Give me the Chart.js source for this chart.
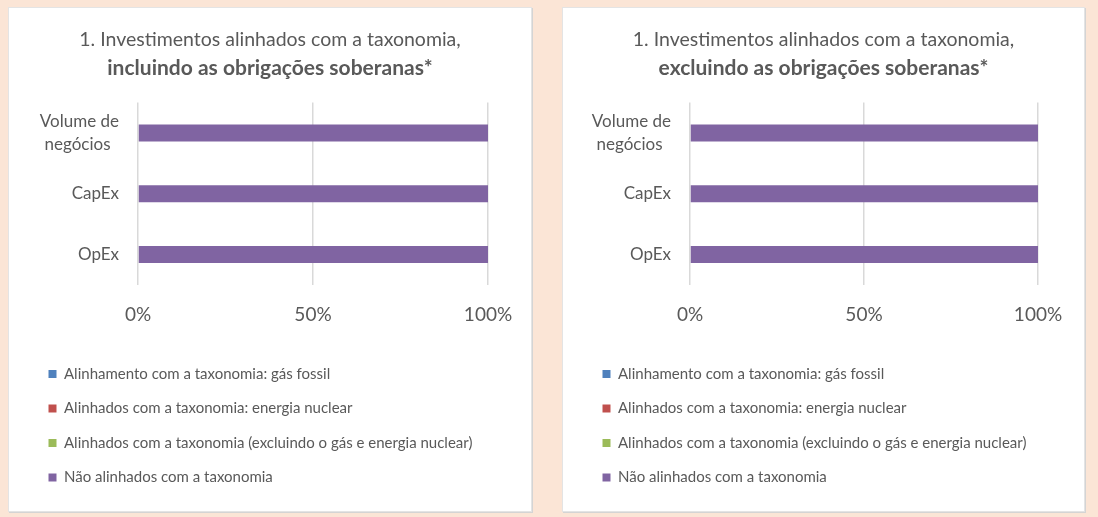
<!DOCTYPE html>
<html>
<head>
<meta charset="utf-8">
<script src="https://cdn.jsdelivr.net/npm/chart.js@4.4.1/dist/chart.umd.min.js"></script>
<style>
  body { margin: 0; background: #fbe5d6; width: 1098px; height: 517px; position: relative; overflow: hidden; }
  .panel { position: absolute; top: 7px; height: 505px; background: #fff; border: 1px solid #e4e4e4; box-sizing: border-box; box-shadow: 1px 1px 0 #d4d4d4; }
  #p1 { left: 8px; width: 524px; }
  #p2 { left: 562px; width: 523px; }
  .panel div { position: relative; width: 100%; height: 100%; }
</style>
</head>
<body>
<div class="panel" id="p1"><div><canvas id="chartIncl"></canvas></div></div>
<div class="panel" id="p2"><div><canvas id="chartExcl"></canvas></div></div>
<script>
// categories (y axis), two-line label for the first one
const categories = [["Volume de", "negócios\u2002"], "CapEx", "OpEx"];
const seriesNames = [
  "Alinhamento com a taxonomia: gás fossil",
  "Alinhados com a taxonomia: energia nuclear",
  "Alinhados com a taxonomia (excluindo o gás e energia nuclear)",
  "Não alinhados com a taxonomia",
];
const seriesColors = ["#4f81bd", "#c0504d", "#9bbb59", "#8064a2"];

// chart 1: incluindo as obrigações soberanas
const inclGasFossil = [0, 0, 0];
const inclNuclear = [0, 0, 0];
const inclAlinhados = [0, 0, 0];
const inclNaoAlinhados = [100, 100, 100];

// chart 2: excluindo as obrigações soberanas
const exclGasFossil = [0, 0, 0];
const exclNuclear = [0, 0, 0];
const exclAlinhados = [0, 0, 0];
const exclNaoAlinhados = [100, 100, 100];

const xTickValues = [0, 50, 100];

const textColor = "#595959";
Chart.defaults.font.family = "Lato";
Chart.defaults.color = textColor;

function makeChart(canvasId, boldLine, seriesData, pad) {
  const datasets = seriesData.map((values, i) => ({
    label: seriesNames[i],
    data: values,
    backgroundColor: seriesColors[i],
    borderWidth: 0,
    barPercentage: 0.28,
    categoryPercentage: 1.0,
  }));

  return new Chart(document.getElementById(canvasId), {
    type: "bar",
    data: { labels: categories, datasets: datasets },
    options: {
      indexAxis: "y",
      responsive: true,
      maintainAspectRatio: false,
      animation: false,
      layout: {
        padding: { left: 20, right: 20, top: 0, bottom: 16 },
      },
      scales: {
        x: {
          stacked: true,
          min: xTickValues[0],
          max: xTickValues[xTickValues.length - 1],
          afterBuildTicks: (scale) => {
            scale.ticks = xTickValues.map((v) => ({ value: v }));
          },
          ticks: {
            callback: (v) => v + "%",
            font: { size: 19 },
            padding: 18,
            color: textColor,
          },
          grid: { color: "#d9d9d9", lineWidth: 1.5, drawTicks: false },
          border: { display: false },
          afterFit: (scale) => {
            scale.height = 62;
          },
        },
        y: {
          stacked: true,
          ticks: { font: { size: 17, lineHeight: 1.35 }, padding: 19, color: textColor },
          grid: { display: false, drawTicks: false },
          border: { display: false },
          afterFit: (scale) => {
            scale.width = pad.yWidth;
          },
        },
        // empty right-hand axis, only keeps room right of the plot
        yRight: {
          position: "right",
          ticks: { display: false },
          grid: { display: false, drawTicks: false },
          border: { display: false },
          afterFit: (scale) => {
            scale.width = pad.right;
          },
        },
      },
      plugins: {
        title: {
          display: true,
          text: "1. Investimentos alinhados com a taxonomia,",
          color: textColor,
          font: { size: 19.5, weight: "normal" },
          padding: { top: 20, bottom: 4 },
        },
        subtitle: {
          display: true,
          text: boldLine,
          color: textColor,
          font: { size: 21, weight: "bold" },
          padding: { top: 0, bottom: 22 },
        },
        legend: {
          position: "bottom",
          align: "start",
          labels: {
            boxWidth: 8,
            boxHeight: 8,
            padding: 19.5,
            color: textColor,
            font: { size: 15 },
          },
        },
        tooltip: { enabled: false },
      },
    },
  });
}

makeChart(
  "chartIncl",
  "incluindo as obrigações soberanas*",
  [inclGasFossil, inclNuclear, inclAlinhados, inclNaoAlinhados],
  { right: 23, yWidth: 109 }
);
makeChart(
  "chartExcl",
  "excluindo as obrigações soberanas*",
  [exclGasFossil, exclNuclear, exclAlinhados, exclNaoAlinhados],
  { right: 26, yWidth: 107 }
);
</script>
</body>
</html>
